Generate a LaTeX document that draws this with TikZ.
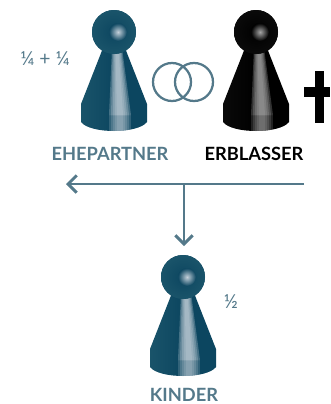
\documentclass[tikz,border=0pt]{standalone}
\usepackage{fontspec}
\setmainfont{Lato}
\usetikzlibrary{arrows.meta}

\definecolor{pawnblue}{RGB}{12,70,96}
\definecolor{pawnedge}{RGB}{26,84,106}
\definecolor{pawnlight}{RGB}{196,208,218}
\definecolor{pawnblack}{RGB}{0,0,0}
\definecolor{blackedge}{RGB}{10,10,10}
\definecolor{blacklight}{RGB}{165,165,165}
\definecolor{labelblue}{RGB}{84,121,138}

\tikzset{
  heirlabel/.style={font=\bfseries\fontsize{13.7}{15}\selectfont, inner sep=0pt},
  sharelabel/.style={font=\fontsize{14.5}{16}\selectfont, text=labelblue, inner sep=0pt},
  ringline/.style={draw=labelblue, line width=1.7pt},
  flowline/.style={draw=labelblue, line width=2.2pt, -{Straight Barb[length=6.5pt,width=13pt,line width=2.2pt]}},
}

% pawn with centre line at x=0, top at y=0 (args: x, y, dark, edge, light)
\newcommand{\pawnfig}[5]{
\begin{scope}[shift={(#1,#2)}]
  \def\pawnbody{(-11,40) -- (-33,96) -- (-33,114) .. controls (-24,126) and (24,126) .. (33,114) -- (33,96) -- (11,40) -- cycle}
  \begin{scope}
    \clip \pawnbody;
    \shade [left color=#4, right color=#3, middle color=#3] (-34,38) rectangle (34,124);
    \foreach \w in {1,0.82,0.64,0.46,0.28} {
      \fill [#5, opacity=0.3] (3-5*\w,40) -- (3+5*\w,40) -- (6+11*\w,107) -- (6-11*\w,107) -- cycle;
      \fill [#5, opacity=0.2] (6-11*\w,107) rectangle (6+11*\w,124);
    }
  \end{scope}
  \fill [#3] (0,24) circle (22);
  \shade [inner color=#3, outer color=#4] (0,24) circle (22);
  \shade [inner color=#5, outer color=#3] (4,24) circle (9);
\end{scope}
}

\begin{document}
\begin{tikzpicture}[x=0.75pt,y=0.75pt,yscale=-1,xscale=1]
\useasboundingbox (0,0) rectangle (330,404);

% pawns
\pawnfig{114}{8}{pawnblue}{pawnedge}{pawnlight}
\pawnfig{256}{8}{pawnblack}{blackedge}{blacklight}
\pawnfig{183}{253}{pawnblue}{pawnedge}{pawnlight}

% rings
\draw [ringline] (172,82) circle (19);
\draw [ringline] (194,82) circle (19);

% cross
\fill [black] (315,71) rectangle (324,123);
\fill [black] (304,87) rectangle (330,97);

% arrows
\coordinate (start) at (304,184);
\coordinate (spouseend) at (66,184);
\coordinate (branch) at (184,184);
\coordinate (childend) at (184,246);
\draw [flowline] (start) -- (spouseend);
\draw [flowline] (branch) -- (childend);

% labels
\node [heirlabel, text=labelblue] (spouse) at (110,154) {EHEPARTNER};
\node [heirlabel, text=black] (deceased) at (254,154) {ERBLASSER};
\node [heirlabel, text=labelblue] (children) at (184,395) {KINDER};
\node [sharelabel] (spouseshare) at (45,59) {¼ + ¼};
\node [sharelabel] (childshare) at (231,302) {½};
\end{tikzpicture}
\end{document}
